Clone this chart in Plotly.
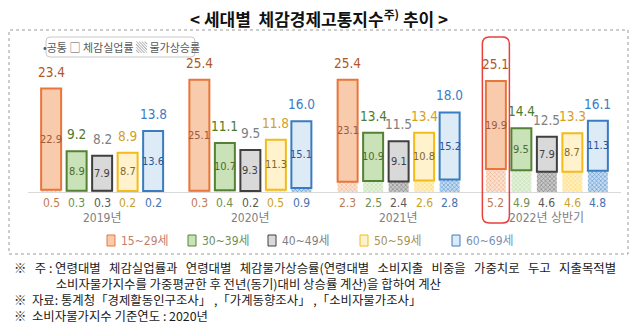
import plotly.graph_objects as go

# ---------------- data ----------------
years = ["2019년", "2020년", "2021년", "2022년 상반기"]
ages = ["15~29세", "30~39세", "40~49세", "50~59세", "60~69세"]

# 체감경제고통지수 (total, shown above bars)
total_15_29 = [23.4, 25.4, 25.4, 25.1]
total_30_39 = [9.2, 11.1, 13.4, 14.4]
total_40_49 = [8.2, 9.5, 11.5, 12.5]
total_50_59 = [8.9, 11.8, 13.4, 13.3]
total_60_69 = [13.8, 16.0, 18.0, 16.1]

# 체감실업률
unemp_15_29 = [22.9, 25.1, 23.1, 19.9]
unemp_30_39 = [8.9, 10.7, 10.9, 9.5]
unemp_40_49 = [7.9, 9.3, 9.1, 7.9]
unemp_50_59 = [8.7, 11.3, 10.8, 8.7]
unemp_60_69 = [13.6, 15.1, 15.2, 11.3]

# 물가상승률
price_15_29 = [0.5, 0.3, 2.3, 5.2]
price_30_39 = [0.3, 0.4, 2.5, 4.9]
price_40_49 = [0.3, 0.2, 2.4, 4.6]
price_50_59 = [0.2, 0.5, 2.6, 4.6]
price_60_69 = [0.2, 0.9, 2.8, 4.8]

totals = [total_15_29, total_30_39, total_40_49, total_50_59, total_60_69]
unemps = [unemp_15_29, unemp_30_39, unemp_40_49, unemp_50_59, unemp_60_69]
prices = [price_15_29, price_30_39, price_40_49, price_50_59, price_60_69]

# ---------------- styles ----------------
border_c = ["#E8763A", "#548235", "#404040", "#F2BC1B", "#3A7CC2"]
fill_c = ["#F8CBAD", "#C9E2B8", "#D9D9D9", "#FFF2CC", "#DDEBF7"]
pat_bg = ["#FBE3D3", "#E4F1DB", "#C8C8C8", "#FFF0C4", "#C5DCF0"]
pat_fg = ["#F2AE86", "#BFDDA8", "#7F7F7F", "#FFD966", "#5B93CF"]
top_c = ["#B0582A", "#4E7A2C", "#808080", "#D2A024", "#3C7DC4"]
inner_c = ["#9A5A3C", "#4E6B32", "#404040", "#7D6A2C", "#2F5597"]
low_c = ["#C27B52", "#6F9050", "#5A5A5A", "#C9A227", "#4A72B0"]
leg_c = ["#C0806A", "#6F8F55", "#7F7F7F", "#A89256", "#7A8FB5"]

NUM_FONT = "Liberation Sans Narrow, DejaVu Sans Condensed, Roboto, Noto Sans CJK KR, sans-serif"
KR_FONT = "Noto Sans CJK KR, sans-serif"

L, R, T, B = 28, 19, 62, 135
W, H = 640, 327
PW, PH = W - L - R, H - T - B
BARGAP = 0.14
GROUPGAP = 0.216
slot = (1 - BARGAP) / len(ages)


def px_x(p):
    return (p - L) / PW


def px_y(p):
    return (T + PH - p) / PH


def rrect(xa, ya, xb, yb, rx, ry):
    x0, x1 = min(xa, xb), max(xa, xb)
    y0, y1 = min(ya, yb), max(ya, yb)
    return (f"M {x0 + rx},{y0} L {x1 - rx},{y0} Q {x1},{y0} {x1},{y0 + ry} "
            f"L {x1},{y1 - ry} Q {x1},{y1} {x1 - rx},{y1} L {x0 + rx},{y1} "
            f"Q {x0},{y1} {x0},{y1 - ry} L {x0},{y0 + ry} Q {x0},{y0} {x0 + rx},{y0} Z")


fig = go.Figure()
for j, age in enumerate(ages):
    fig.add_trace(go.Bar(
        x=years, y=prices[j], offsetgroup=str(j), name=age + " 물가",
        marker=dict(color=pat_bg[j], line=dict(width=0),
                    pattern=dict(shape="x", fgcolor=pat_fg[j], bgcolor=pat_bg[j],
                                 size=3, solidity=0.35, fillmode="replace")),
        showlegend=False, hoverinfo="skip"))
    fig.add_trace(go.Bar(
        x=years, y=unemps[j], base=prices[j], offsetgroup=str(j), name=age,
        marker=dict(color=fill_c[j], line=dict(color=border_c[j], width=2)),
        showlegend=False))

ann = []
for j in range(len(ages)):
    for i in range(len(years)):
        xc = i + slot * (j - 2)
        ann.append(dict(x=xc, y=totals[j][i], xref="x", yref="y", text=f"{totals[j][i]:.1f}",
                        showarrow=False, yshift=17, xanchor="center", yanchor="middle",
                        font=dict(family=NUM_FONT, size=13.5, color=top_c[j])))
        ann.append(dict(x=xc, y=prices[j][i] + unemps[j][i] / 2, xref="x", yref="y",
                        text=f"{unemps[j][i]:.1f}", showarrow=False, xanchor="center", yanchor="middle",
                        font=dict(family=NUM_FONT, size=11, color=inner_c[j])))
        ann.append(dict(x=xc, y=0, xref="x", yref="y", text=f"{prices[j][i]:.1f}",
                        showarrow=False, yshift=-11, xanchor="center", yanchor="middle",
                        font=dict(family=NUM_FONT, size=12, color=low_c[j])))
for i, yr in enumerate(years):
    ann.append(dict(x=i, y=0, xref="x", yref="y", text=yr, showarrow=False, yshift=-26,
                    xanchor="center", yanchor="middle",
                    font=dict(family=NUM_FONT, size=12, color="#808080")))

# title
ann.append(dict(x=px_x(319), y=px_y(18), xref="paper", yref="paper", showarrow=False,
                xanchor="center", yanchor="middle",
                text="<b>&lt; 세대별  체감경제고통지수<sup>주)</sup> 추이 &gt;</b>",
                font=dict(family=KR_FONT, size=17, color="#111111")))
# small legend box text
ann.append(dict(x=px_x(121), y=px_y(47), xref="paper", yref="paper", showarrow=False,
                xanchor="center", yanchor="middle",
                text="•공통 □ 체감실업률 ▒ 물가상승률",
                font=dict(family=KR_FONT, size=11, color="#595959")))

shapes = []
# dotted frame
shapes.append(dict(type="rect", xref="paper", yref="paper", x0=px_x(9), x1=px_x(628),
                   y0=px_y(254), y1=px_y(30), line=dict(color="#9A9A9A", width=1, dash="dot"),
                   layer="below"))
# small legend rounded box
shapes.append(dict(type="path", xref="paper", yref="paper",
                   path=rrect(px_x(46), px_y(37), px_x(195), px_y(57), 4 / PW, 4 / PH),
                   line=dict(color="#C8C8C8", width=1)))

# red highlight around 2022 15~29 bar
hx = 3 + slot * (0 - 2)
unit = PW / 4
shapes.append(dict(type="path", xref="x", yref="paper",
                   path=rrect(hx - 13.5 / unit, px_y(37), hx + 13.5 / unit, px_y(223), 7 / unit, 7 / PH),
                   line=dict(color="#E8403A", width=1.5)))

# bottom legend
leg_sq_x = [107, 188, 268, 360, 452]
for j, age in enumerate(ages):
    sx = leg_sq_x[j]
    shapes.append(dict(type="rect", xref="paper", yref="paper", x0=px_x(sx), x1=px_x(sx + 8),
                       y0=px_y(246), y1=px_y(235), fillcolor=fill_c[j],
                       line=dict(color=border_c[j], width=1), layer="above"))
    ann.append(dict(x=px_x(sx + 12), y=px_y(240.5), xref="paper", yref="paper", showarrow=False,
                    xanchor="left", yanchor="middle", text=age,
                    font=dict(family=NUM_FONT, size=12, color=leg_c[j])))

# footnotes (one multi-line block)
NB = "&nbsp;"
SP = NB * 3
note_lines = [
    "※" + SP + "주 :" + NB + "연령대별" + SP + "체감실업률과" + SP + "연령대별" + SP
    + "체감물가상승률(연령대별" + SP + "소비지출" + SP + "비중을" + SP + "가중치로"
    + SP + "두고" + SP + "지출목적별",
    NB * 15 + "소비자물가지수를 가중평균한 후 전년(동기)대비 상승률 계산)을 합하여 계산",
    "※" + NB * 2 + "자료: 통계청「경제활동인구조사」 ,「가계동향조사」 ,「소비자물가조사」",
    "※" + NB * 2 + "소비자물가지수 기준연도 : 2020년",
]
ann.append(dict(x=px_x(12), y=px_y(292), xref="paper", yref="paper", showarrow=False,
                xanchor="left", yanchor="middle", align="left", text="<br>".join(note_lines),
                font=dict(family=KR_FONT, size=12.4, color="#1A1A1A")))

fig.update_layout(
    width=W, height=H, margin=dict(l=L, r=R, t=T, b=B),
    paper_bgcolor="white", plot_bgcolor="white",
    barmode="group", bargap=BARGAP, bargroupgap=GROUPGAP,
    showlegend=False,
    xaxis=dict(type="category", range=[-0.5, 3.5], showline=True, linecolor="#D9D9D9",
               linewidth=1.2, showticklabels=False, ticks="", showgrid=False, zeroline=False,
               fixedrange=True),
    yaxis=dict(range=[0, 29.4], visible=False, showgrid=False, zeroline=False, fixedrange=True),
    annotations=ann, shapes=shapes,
)

fig.write_html("out.html")
